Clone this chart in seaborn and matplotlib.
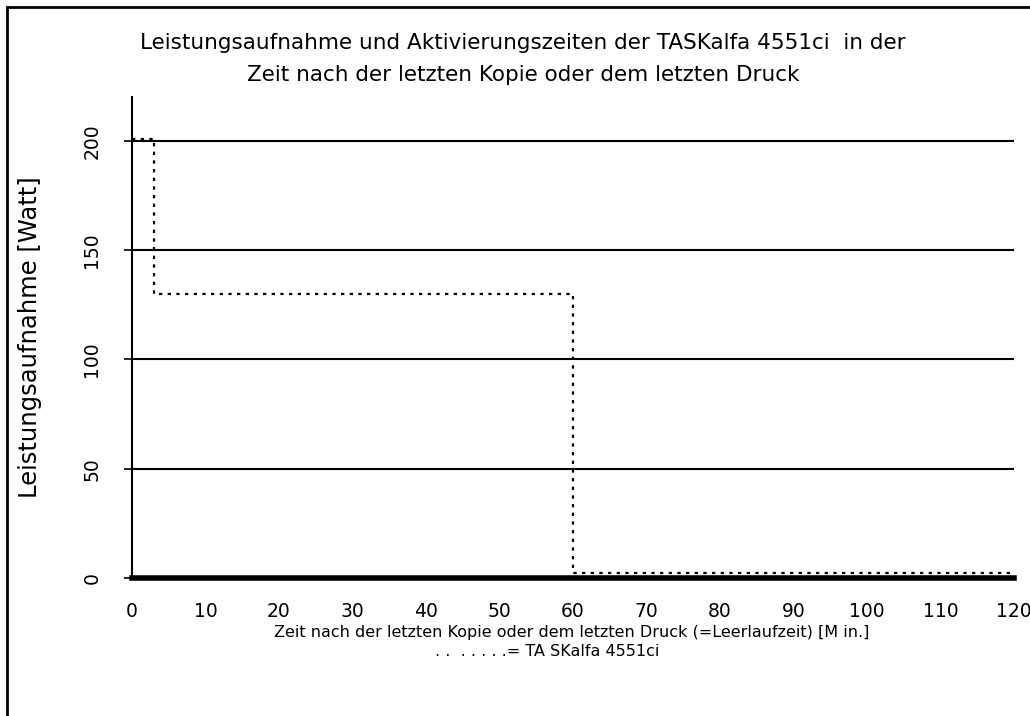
import matplotlib
matplotlib.use("Agg")
import matplotlib.pyplot as plt
import seaborn as sns
import pandas as pd
from matplotlib.patches import Rectangle

# Data
minutes = [0, 3, 60, 120]
power_watt = [201, 130, 2.5, 2.5]
x_ticks = [0, 10, 20, 30, 40, 50, 60, 70, 80, 90, 100, 110, 120]
y_ticks = [0, 50, 100, 150, 200]
title_text = "Leistungsaufnahme und Aktivierungszeiten der TASKalfa 4551ci  in der\nZeit nach der letzten Kopie oder dem letzten Druck"
xlabel_text = "Zeit nach der letzten Kopie oder dem letzten Druck (=Leerlaufzeit) [M in.]"
legend_text = ". .  . . . . .= TA SKalfa 4551ci"
ylabel_text = "Leistungsaufnahme [Watt]"

sns.set_theme(style="white")
plt.rcParams['font.family'] = ['DejaVu Sans']

df = pd.DataFrame({"min": minutes, "watt": power_watt})

fig = plt.figure(figsize=(10.30, 7.16), dpi=100)
ax = fig.add_axes([132/1030, 1-578/716, (1014-132)/1030, (578-97)/716])

sns.lineplot(data=df, x="min", y="watt", ax=ax, color="black",
             drawstyle="steps-post", linewidth=1.6, linestyle=(0, (1.5, 2.4)),
             zorder=3)

ax.set_xlim(0, 120)
ax.set_ylim(0, 220)
ax.set_xticks(x_ticks)
ax.set_yticks(y_ticks)
ax.set_xticklabels([str(v) for v in x_ticks], fontsize=13.5, color="black")
ax.set_yticklabels([str(v) for v in y_ticks], fontsize=13.5, rotation=90, va="center", color="black")
ax.tick_params(axis="x", length=0, pad=17)
ax.tick_params(axis="y", length=6, width=1.2, color="black", pad=16, direction="out", left=True)

for v in y_ticks[1:]:
    ax.axhline(v, color="black", linewidth=1.5, zorder=1)

for s in ["top", "right"]:
    ax.spines[s].set_visible(False)
ax.spines["left"].set_color("black")
ax.spines["left"].set_linewidth(1.5)
ax.spines["bottom"].set_color("black")
ax.spines["bottom"].set_linewidth(4)
ax.spines["bottom"].set_zorder(4)

ax.set_xlabel("")
ax.set_ylabel(ylabel_text, fontsize=17.5, color="black")
ax.yaxis.set_label_coords(-(132-42)/882, 0.5)

fig.text(523/1030, 1-59/716, title_text, ha="center", va="center",
         fontsize=15.5, linespacing=1.7, color="black")
fig.text(572/1030, 1-632/716, xlabel_text, ha="center", va="center", fontsize=11.5, color="black")
fig.text(547/1030, 1-652/716, legend_text, ha="center", va="center", fontsize=11.5, color="black")

fig.patches.append(Rectangle((7/1030, -0.05), 1.1, 1-7/716+0.05, transform=fig.transFigure,
                             fill=False, edgecolor="black", linewidth=2, zorder=0))

fig.savefig("out.png", dpi=100)
